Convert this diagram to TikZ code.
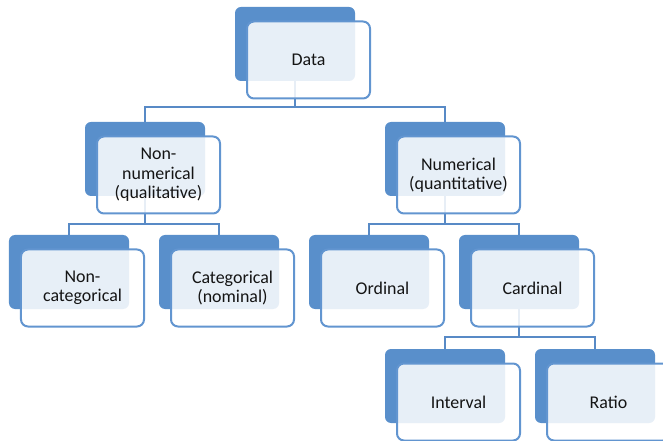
\documentclass[tikz,border=0pt]{standalone}
\usepackage{fontspec}
\setmainfont{Carlito}
\usetikzlibrary{positioning}
\definecolor{backblue}{RGB}{89,143,203}
\definecolor{edgeblue}{RGB}{98,149,208}
\definecolor{linkblue}{RGB}{88,138,198}
\definecolor{txt}{RGB}{20,20,20}
\tikzset{
  backbox/.style={rectangle, rounded corners=6bp, fill=backblue, inner sep=0pt,
    minimum width=120bp, minimum height=74bp},
  frontbox/.style={rectangle, rounded corners=7bp, draw=edgeblue, line width=2bp,
    fill=white, fill opacity=0.86, text opacity=1, inner sep=0pt,
    minimum width=123bp, minimum height=77bp, align=center, text=txt,
    font=\fontsize{18}{19.5}\selectfont},
  link/.style={draw=linkblue, line width=2bp}
}
\begin{document}
\begin{tikzpicture}[x=1bp, y=-1bp]
\useasboundingbox (0,0) rectangle (663,441);
% back boxes
\node[backbox] (dataB) at (295,44) {};
\node[backbox] (nnB) at (145,159) {};
\node[backbox] (numB) at (445,159) {};
\node[backbox] (ncB) at (69,272) {};
\node[backbox] (catB) at (219,272) {};
\node[backbox] (ordB) at (369,272) {};
\node[backbox] (carB) at (519,272) {};
\node[backbox] (intB) at (445,386) {};
\node[backbox] (ratB) at (595,386) {};
% bus coordinates
\coordinate (bus0) at (295,107);
\coordinate (bus1) at (145,224);
\coordinate (bus2) at (445,224);
\coordinate (bus3) at (519,337);
% connectors
\draw[link] (dataB.south) -- (bus0);
\draw[link] (bus0) -| (nnB.north);
\draw[link] (bus0) -| (numB.north);
\draw[link] (nnB.south) -- (bus1);
\draw[link] (bus1) -| (ncB.north);
\draw[link] (bus1) -| (catB.north);
\draw[link] (numB.south) -- (bus2);
\draw[link] (bus2) -| (ordB.north);
\draw[link] (bus2) -| (carB.north);
\draw[link] (carB.south) -- (bus3);
\draw[link] (bus3) -| (intB.north);
\draw[link] (bus3) -| (ratB.north);
% front boxes
\node[frontbox] (dataF) at (308.5,60) {Data};
\node[frontbox] (nnF) at (158.5,175) {Non-\\numerical\\(qualitative)};
\node[frontbox] (numF) at (458.5,175) {Numerical\\(quantitative)};
\node[frontbox] (ncF) at (82.5,288) {Non-\\categorical};
\node[frontbox] (catF) at (232.5,288) {Categorical\\(nominal)};
\node[frontbox] (ordF) at (382.5,288) {Ordinal};
\node[frontbox] (carF) at (532.5,288) {Cardinal};
\node[frontbox] (intF) at (458.5,402) {Interval};
\node[frontbox] (ratF) at (608.5,402) {Ratio};
\end{tikzpicture}
\end{document}
